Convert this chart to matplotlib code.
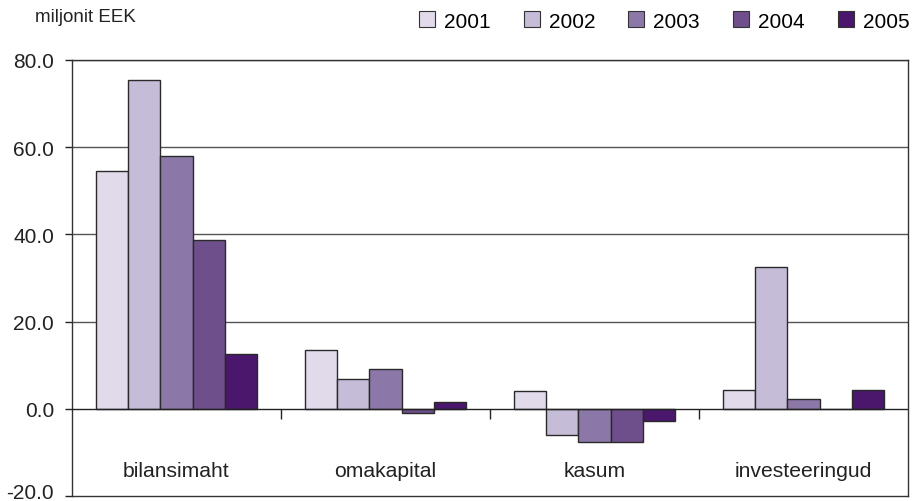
import numpy as np
import matplotlib.pyplot as plt
import matplotlib.transforms as mtransforms
from matplotlib.patches import Patch

plt.rcParams['font.family'] = ['Liberation Sans', 'DejaVu Sans']

categories = ['bilansimaht', 'omakapital', 'kasum', 'investeeringud']
years = ['2001', '2002', '2003', '2004', '2005']
v2001 = [54.6, 13.4, 4.1, 4.4]
v2002 = [75.5, 6.8, -6.1, 32.5]
v2003 = [58.0, 9.2, -7.5, 2.2]
v2004 = [38.8, -1.0, -7.5, 0.0]
v2005 = [12.5, 1.6, -2.8, 4.4]
series = [v2001, v2002, v2003, v2004, v2005]
colors = ['#E0DAEA', '#C5BCD8', '#8C78A8', '#6E4F8C', '#4A176C']
yticks = [-20, 0, 20, 40, 60, 80]

fig = plt.figure(figsize=(9.16, 5.02), dpi=100)
fig.patch.set_facecolor('white')
ax = fig.add_axes([72 / 916, 1 - 497 / 502, (908 - 72) / 916, (497 - 61) / 502])

x = np.arange(len(categories))
w = 0.155
for i, (vals, c) in enumerate(zip(series, colors)):
    ax.bar(x + (i - 2) * w, vals, w, color=c, edgecolor='#2a2a2a', linewidth=1.0,
           zorder=3)

ax.set_xlim(-0.5, len(categories) - 0.5)
ax.set_ylim(-20, 80)
ax.set_yticks(yticks)
ax.set_yticklabels(['%.1f' % t for t in yticks])
for t in yticks[2:]:
    ax.axhline(t, color='#555555', linewidth=1.0, zorder=1)
ax.axhline(0, color='#222222', linewidth=1.0, zorder=4)

# category labels and separators inside the plot
for xi, name in zip(x, categories):
    ax.text(xi, -14.1, name, ha='center', va='center', fontsize=15.2, color='#222222')
ax.vlines(x[:-1] + 0.5, -2.3, 0, color='#222222', linewidth=1.0, zorder=4)

ax.set_xticks([])
ax.tick_params(axis='y', length=5, pad=8, labelsize=15, colors='#222222',
               width=1.0)
for side in ['left', 'bottom', 'right', 'top']:
    ax.spines[side].set_color('#333333')
    ax.spines[side].set_linewidth(1.0)

# bottom label sits a bit higher so it stays inside the figure
lbl = ax.get_yticklabels()[0]
lbl.set_transform(lbl.get_transform() +
                  mtransforms.ScaledTranslation(0, 5 / 100, fig.dpi_scale_trans))

fig.text(35 / 916, 1 - 18 / 502, 'miljonit EEK', fontsize=13.5, va='center',
         ha='left', color='#222222')

handles = [Patch(facecolor=c, edgecolor='#333333', linewidth=0.8) for c in colors]
fig.legend(handles, years, loc='center right', bbox_to_anchor=(910 / 916, 1 - 22 / 502),
           ncol=5, frameon=False, fontsize=15, handlelength=0.77, handleheight=0.77,
           handletextpad=0.43, columnspacing=1.6, borderpad=0, borderaxespad=0)

plt.savefig('out.png', dpi=100)
